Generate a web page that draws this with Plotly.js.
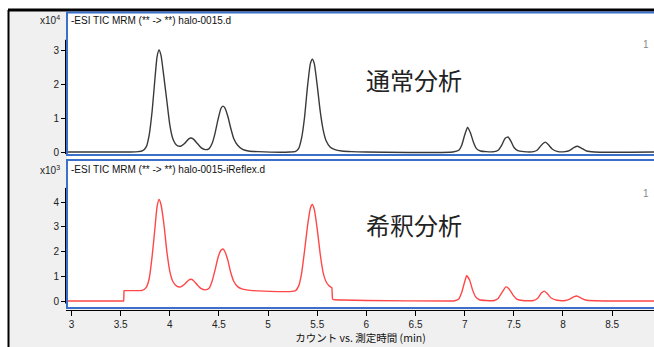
<!DOCTYPE html>
<html>
<head>
<meta charset="utf-8">
<script src="https://cdn.plot.ly/plotly-3.0.1.min.js"></script>
<style>html,body{margin:0;padding:0;background:#fff;}#chart{width:654px;height:347px;}</style>
</head>
<body>
<div id="chart"></div>
<script>
// Panel 1: normal analysis (x10^4 counts)
const timeNormal = [2.95,3.60,3.68,3.72,3.76,3.79,3.82,3.85,3.87,3.89,3.91,3.94,3.97,4.00,4.03,4.07,4.11,4.15,4.19,4.215,4.24,4.28,4.32,4.36,4.40,4.43,4.46,4.49,4.52,4.54,4.56,4.59,4.62,4.65,4.69,4.74,4.80,4.90,5.22,5.28,5.31,5.34,5.37,5.40,5.43,5.45,5.47,5.50,5.53,5.56,5.59,5.63,5.68,5.75,5.85,6.00,6.88,6.94,6.97,7.00,7.03,7.06,7.09,7.12,7.16,7.22,7.30,7.34,7.38,7.41,7.44,7.47,7.50,7.54,7.60,7.70,7.74,7.78,7.82,7.85,7.89,7.94,8.02,8.07,8.11,8.15,8.19,8.24,8.32,8.93];
const countsNormal = [0,0,0.01,0.03,0.15,0.5,1.2,2.2,2.8,3.0,2.85,2.2,1.5,0.8,0.4,0.2,0.17,0.25,0.38,0.41,0.38,0.25,0.12,0.07,0.1,0.25,0.55,0.95,1.28,1.35,1.3,1.05,0.7,0.4,0.2,0.08,0.03,0.01,0,0.02,0.1,0.4,1.0,1.9,2.6,2.73,2.6,1.95,1.2,0.65,0.33,0.15,0.07,0.03,0.01,0,0,0.05,0.2,0.5,0.73,0.55,0.28,0.1,0.03,0.01,0.01,0.05,0.22,0.4,0.44,0.32,0.14,0.04,0.01,0.01,0.06,0.2,0.29,0.22,0.09,0.02,0.01,0.05,0.13,0.17,0.11,0.03,0,0];

// Panel 2: diluted analysis (x10^3 counts)
const timeDiluted = [2.95,3.50,3.525,3.53,3.535,3.54,3.56,3.65,3.72,3.76,3.79,3.82,3.85,3.87,3.89,3.91,3.94,3.97,4.00,4.03,4.07,4.11,4.15,4.19,4.215,4.24,4.28,4.32,4.36,4.40,4.43,4.46,4.49,4.52,4.54,4.56,4.59,4.62,4.65,4.69,4.74,4.82,4.95,5.10,5.22,5.28,5.31,5.34,5.37,5.40,5.43,5.45,5.47,5.50,5.53,5.56,5.59,5.62,5.64,5.648,5.655,5.662,5.68,5.75,6.00,6.85,6.90,6.94,6.97,7.00,7.02,7.05,7.08,7.11,7.15,7.22,7.30,7.34,7.38,7.42,7.45,7.49,7.53,7.59,7.70,7.74,7.78,7.81,7.84,7.88,7.94,8.02,8.07,8.11,8.14,8.18,8.23,8.32,8.93];
const countsDiluted = [0,0,0,0,0.42,0.42,0.42,0.42,0.43,0.55,0.9,1.8,3.0,3.8,4.1,3.9,3.1,2.0,1.2,0.8,0.6,0.57,0.68,0.84,0.88,0.83,0.65,0.5,0.45,0.52,0.8,1.25,1.75,2.05,2.1,2.0,1.65,1.15,0.8,0.58,0.48,0.43,0.4,0.38,0.38,0.42,0.6,1.1,2.0,3.0,3.75,3.9,3.7,2.9,1.9,1.15,0.78,0.62,0.56,0.54,0.1,0.06,0.05,0.04,0.02,0,0.01,0.08,0.35,0.78,1.02,0.85,0.45,0.18,0.05,0.02,0.02,0.1,0.35,0.57,0.5,0.25,0.08,0.02,0.02,0.1,0.32,0.4,0.3,0.12,0.03,0.02,0.08,0.17,0.2,0.13,0.04,0.01,0];

const xTicks = [3,3.5,4,4.5,5,5.5,6,6.5,7,7.5,8,8.5];
const xTickText = ['3','3.5','4','4.5','5','5.5','6','6.5','7','7.5','8','8.5'];
const yTicksNormal = [0,1,2,3];
const yTicksDiluted = [0,1,2,3,4];

const W = 654, H = 347;
const px = v => v / W;
const py = v => 1 - v / H;
const BLUE = '#3b6fc9';
const tickFont = {family: 'Liberation Sans, Arial, sans-serif', size: 10, color: '#222'};

const traces = [
  {x: timeNormal, y: countsNormal, xaxis: 'x', yaxis: 'y', type: 'scatter', mode: 'lines',
   line: {color: '#3a3a3a', width: 1.4, shape: 'spline', smoothing: 0.5}, hoverinfo: 'skip'},
  {x: timeDiluted, y: countsDiluted, xaxis: 'x', yaxis: 'y2', type: 'scatter', mode: 'lines',
   line: {color: '#ff4747', width: 1.4, shape: 'spline', smoothing: 0.5}, hoverinfo: 'skip'}
];

const layout = {
  width: W, height: H,
  margin: {l: 0, r: 0, t: 0, b: 0, pad: 0},
  paper_bgcolor: '#ffffff',
  plot_bgcolor: 'rgba(0,0,0,0)',
  showlegend: false,
  xaxis: {
    domain: [px(67), 1], range: [2.954, 8.926], anchor: 'y2',
    showgrid: false, zeroline: false, showline: false,
    ticks: 'outside', ticklen: 6, tickwidth: 1, tickcolor: '#000',
    tickvals: xTicks, ticktext: xTickText, tickfont: tickFont,
    title: {text: 'カウント vs. 測定時間 (min)', font: {family: 'Noto Sans CJK JP, sans-serif', size: 10.5, color: '#111'}, standoff: 4}
  },
  yaxis: {
    domain: [py(155), py(12)], range: [-0.088, 4.118], anchor: 'x',
    showgrid: false, zeroline: false, showline: false,
    ticks: 'outside', ticklen: 5, tickwidth: 1, tickcolor: '#000',
    tickvals: yTicksNormal, tickfont: tickFont
  },
  yaxis2: {
    domain: [py(309), py(160)], range: [-0.323, 5.697], anchor: 'x',
    showgrid: false, zeroline: false, showline: false,
    ticks: 'outside', ticklen: 5, tickwidth: 1, tickcolor: '#000',
    tickvals: yTicksDiluted, tickfont: tickFont
  },
  shapes: [
    {type: 'rect', xref: 'paper', yref: 'paper', x0: px(9), x1: 1, y0: 0, y1: py(10), fillcolor: '#f0f0f0', line: {width: 0}, layer: 'below'},
    {type: 'rect', xref: 'paper', yref: 'paper', x0: px(67), x1: 1, y0: py(309), y1: py(12), fillcolor: '#ffffff', line: {width: 0}, layer: 'below'},
    {type: 'line', xref: 'paper', yref: 'paper', x0: px(8), x1: 1, y0: py(10), y1: py(10), line: {color: '#000', width: 3}},
    {type: 'line', xref: 'paper', yref: 'paper', x0: px(8.5), x1: px(8.5), y0: py(10), y1: 0, line: {color: '#000', width: 2}},
    {type: 'rect', xref: 'paper', yref: 'paper', x0: px(67), x1: 1.01, y0: py(155), y1: py(12.5), line: {color: BLUE, width: 2}},
    {type: 'rect', xref: 'paper', yref: 'paper', x0: px(67), x1: 1.01, y0: py(308), y1: py(160), line: {color: BLUE, width: 2}},
    {type: 'line', xref: 'paper', yref: 'y', x0: px(65.5), x1: px(65.5), y0: -0.06, y1: 3.3, line: {color: '#000', width: 1}},
    {type: 'line', xref: 'paper', yref: 'y2', x0: px(65.5), x1: px(65.5), y0: -0.1, y1: 4.57, line: {color: '#000', width: 1}},
    {type: 'line', xref: 'paper', yref: 'paper', x0: px(66), x1: 1, y0: py(310.5), y1: py(310.5), line: {color: '#000', width: 1}}
  ],
  annotations: [
    {xref: 'paper', yref: 'paper', x: px(62), y: py(20), xanchor: 'right', yanchor: 'middle', showarrow: false,
     text: 'x10<sup>4</sup>', font: {family: 'Liberation Sans, Arial, sans-serif', size: 10, color: '#222'}},
    {xref: 'paper', yref: 'paper', x: px(69), y: py(20), xanchor: 'left', yanchor: 'middle', showarrow: false,
     text: '-ESI TIC MRM (** -> **) halo-0015.d', font: {family: 'Liberation Sans, Arial, sans-serif', size: 10, color: '#111'}},
    {xref: 'paper', yref: 'paper', x: px(646), y: py(44), xanchor: 'center', yanchor: 'middle', showarrow: false,
     text: '1', font: {family: 'Liberation Sans, Arial, sans-serif', size: 10, color: '#888'}},
    {xref: 'paper', yref: 'paper', x: px(414), y: py(79), xanchor: 'center', yanchor: 'middle', showarrow: false,
     text: '通常分析', font: {family: 'Noto Sans CJK JP, sans-serif', size: 24, color: '#222'}},
    {xref: 'paper', yref: 'paper', x: px(62), y: py(170), xanchor: 'right', yanchor: 'middle', showarrow: false,
     text: 'x10<sup>3</sup>', font: {family: 'Liberation Sans, Arial, sans-serif', size: 10, color: '#222'}},
    {xref: 'paper', yref: 'paper', x: px(69), y: py(170), xanchor: 'left', yanchor: 'middle', showarrow: false,
     text: '-ESI TIC MRM (** -> **) halo-0015-iReflex.d', font: {family: 'Liberation Sans, Arial, sans-serif', size: 10, color: '#111'}},
    {xref: 'paper', yref: 'paper', x: px(646), y: py(193), xanchor: 'center', yanchor: 'middle', showarrow: false,
     text: '1', font: {family: 'Liberation Sans, Arial, sans-serif', size: 10, color: '#888'}},
    {xref: 'paper', yref: 'paper', x: px(414), y: py(224), xanchor: 'center', yanchor: 'middle', showarrow: false,
     text: '希釈分析', font: {family: 'Noto Sans CJK JP, sans-serif', size: 24, color: '#222'}}
  ]
};

Plotly.newPlot('chart', traces, layout, {staticPlot: true, displayModeBar: false});
</script>
</body>
</html>
